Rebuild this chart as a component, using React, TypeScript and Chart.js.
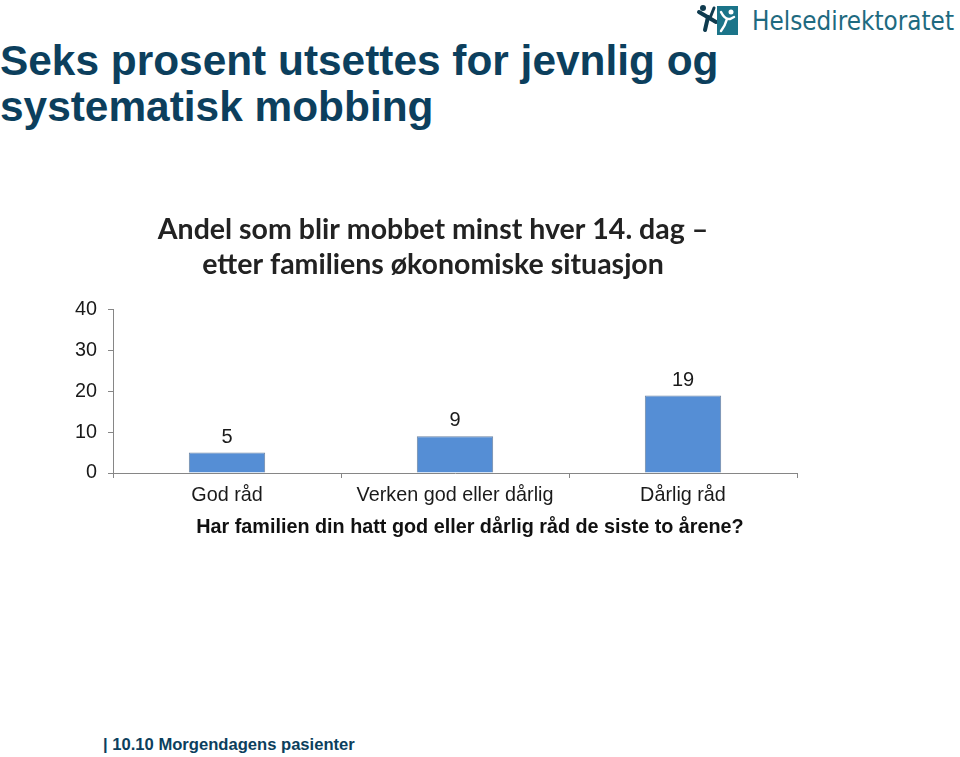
import React, { useEffect, useRef } from "react";
import { Chart, registerables } from "chart.js";

Chart.register(...registerables);

const categories = ["God råd", "Verken god eller dårlig", "Dårlig råd"];
const values = [5, 9, 19];
const yMin = 0;
const yMax = 40;
const yStep = 10;
const chartTitle = [
  "Andel som blir mobbet minst hver 14. dag –",
  "etter familiens økonomiske situasjon",
];
const xTitle = "Har familien din hatt god eller dårlig råd de siste to årene?";
const pageTitle = ["Seks prosent utsettes for jevnlig og", "systematisk mobbing"];
const footerText = "| 10.10 Morgendagens pasienter";
const logoText = "Helsedirektoratet";

const AXIS_COLOR = "#868686";
const BAR_COLOR = "#558ED5";
const NAVY = "#0c3f5d";
const FONT = "'Liberation Sans', Arial, sans-serif";

const valueLabelPlugin = {
  id: "valueLabels",
  afterDatasetsDraw(chart: any) {
    const ctx = chart.ctx;
    const meta = chart.getDatasetMeta(0);
    ctx.save();
    ctx.font = `20px ${FONT}`;
    ctx.fillStyle = "#1a1a1a";
    ctx.textAlign = "center";
    ctx.textBaseline = "alphabetic";
    meta.data.forEach((bar: any, i: number) => {
      ctx.fillText(String(values[i]), bar.x, bar.y - 10);
    });
    ctx.restore();
  },
};

const xTitlePlugin = {
  id: "xTitleOffset",
  afterDraw(chart: any) {
    const { ctx, chartArea } = chart;
    ctx.save();
    ctx.font = `bold 19.8px ${FONT}`;
    ctx.fillStyle = "#111111";
    ctx.textAlign = "center";
    ctx.textBaseline = "middle";
    ctx.fillText(xTitle, (chartArea.left + chartArea.right) / 2 + 15, chartArea.bottom + 55);
    ctx.restore();
  },
};

function BarChart() {
  const ref = useRef<HTMLCanvasElement | null>(null);
  useEffect(() => {
    if (!ref.current) return;
    const chart = new Chart(ref.current, {
      type: "bar",
      data: {
        labels: categories,
        datasets: [
          {
            data: values,
            backgroundColor: BAR_COLOR,
            borderColor: "#6f86a3",
            borderWidth: 1,
            categoryPercentage: 1,
            barPercentage: 0.335,
          },
        ],
      },
      options: {
        animation: false,
        responsive: false,
        maintainAspectRatio: false,
        devicePixelRatio: 1,
        layout: { padding: { left: 0, right: 32, top: 0, bottom: 0 } },
        plugins: {
          legend: { display: false },
          tooltip: { enabled: false },
          title: {
            display: true,
            text: chartTitle,
            color: "#222222",
            font: { family: "Lato, 'Open Sans', sans-serif", weight: "bold", size: 28.5, lineHeight: 1.228 },
            padding: { top: 22, bottom: 28 },
          },
        },
        scales: {
          x: {
            grid: {
              display: true,
              drawOnChartArea: false,
              drawTicks: true,
              tickLength: 5,
              color: AXIS_COLOR,
              offset: true,
            },
            border: { display: true, color: AXIS_COLOR, width: 1 },
            ticks: {
              color: "#1a1a1a",
              font: { family: FONT, size: 19.8 },
              padding: 6,
              maxRotation: 0,
              autoSkip: false,
            },
            afterFit: (s: any) => {
              s.height = 70;
            },
          },
          y: {
            min: yMin,
            max: yMax,
            ticks: {
              stepSize: yStep,
              color: "#1a1a1a",
              font: { family: FONT, size: 19.8 },
              padding: 11,
            },
            grid: {
              display: true,
              drawOnChartArea: false,
              drawTicks: true,
              tickLength: 5,
              color: AXIS_COLOR,
            },
            border: { display: true, color: AXIS_COLOR, width: 1 },
            afterFit: (s: any) => {
              s.width = 44;
            },
          },
        },
      },
      plugins: [valueLabelPlugin, xTitlePlugin],
    } as any);
    return () => chart.destroy();
  }, []);
  return (
    <canvas
      ref={ref}
      width={760}
      height={353}
      style={{ position: "absolute", left: 69, top: 190, width: 760, height: 353 }}
    />
  );
}

function Logo() {
  return (
    <svg
      width={266}
      height={42}
      style={{ position: "absolute", left: 694, top: 0 }}
      viewBox="0 0 266 42"
    >
      <circle cx={9} cy={8} r={3} fill="#0f3b4f" />
      <path d="M5 12 L22 22" stroke="#0f3b4f" strokeWidth={4} strokeLinecap="round" />
      <path d="M14 17 L11 30" stroke="#0f3b4f" strokeWidth={4} strokeLinecap="round" />
      <path d="M16 18 L20 8" stroke="#0f3b4f" strokeWidth={3} strokeLinecap="round" />
      <rect x={23} y={6} width={21} height={29} fill="#1b7489" />
      <circle cx={37} cy={12} r={2.5} fill="#ffffff" />
      <path d="M27 12 Q31 20 36 19 L40 17" stroke="#ffffff" strokeWidth={2.5} fill="none" strokeLinecap="round" />
      <path d="M33 19 Q31 26 27 31" stroke="#ffffff" strokeWidth={2.5} fill="none" strokeLinecap="round" />
      <text
        x={58}
        y={30}
        fontFamily="'DejaVu Sans', sans-serif"
        fontSize={26}
        fill="#1e6a80"
        textLength={202}
        lengthAdjust="spacingAndGlyphs"
      >
        {logoText}
      </text>
    </svg>
  );
}

export default function App() {
  return (
    <div
      style={{
        position: "absolute",
        left: 0,
        top: 0,
        width: 960,
        height: 757,
        background: "#ffffff",
        overflow: "hidden",
      }}
    >
      <div
        style={{
          position: "absolute",
          left: 0,
          top: 38,
          fontFamily: FONT,
          fontWeight: "bold",
          fontSize: 42.4,
          lineHeight: "46px",
          color: NAVY,
          whiteSpace: "nowrap",
        }}
      >
        {pageTitle.map((l, i) => (
          <div key={i}>{l}</div>
        ))}
      </div>
      <Logo />
      <BarChart />
      <div
        style={{
          position: "absolute",
          left: 103,
          top: 735,
          fontFamily: FONT,
          fontWeight: "bold",
          fontSize: 16.6,
          lineHeight: "20px",
          color: NAVY,
          whiteSpace: "nowrap",
        }}
      >
        {footerText}
      </div>
    </div>
  );
}
